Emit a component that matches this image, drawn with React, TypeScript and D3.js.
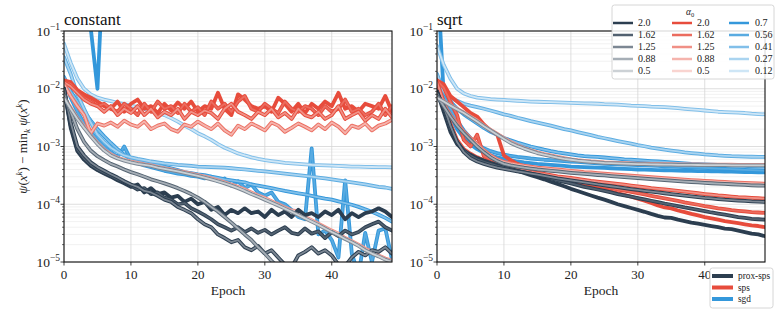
import React from 'react';
import * as d3 from 'd3';

// ---- data ----
const epochs = d3.range(50);
const alphaSps = ['2.0', '1.62', '1.25', '0.88', '0.5'];
const alphaSgd = ['0.7', '0.56', '0.41', '0.27', '0.12'];
const methodNames = ['prox-sps', 'sps', 'sgd'];
const xTicks = [0, 10, 20, 30, 40];
const yTicks = [1e-1, 1e-2, 1e-3, 1e-4, 1e-5];
const yTickExp = ['−1', '−2', '−3', '−4', '−5'];

// step size schedule: constant
const constProx20 = [
  1.0e-2, 2.1e-3, 8.3e-4, 5.9e-4, 4.6e-4, 3.9e-4, 3.4e-4, 3.0e-4, 2.6e-4, 2.3e-4,
  2.0e-4, 2.2e-4, 1.6e-4, 1.9e-4, 1.5e-4, 1.6e-4, 1.3e-4, 1.4e-4, 1.1e-4, 1.25e-4,
  1.0e-4, 1.1e-4, 8.0e-5, 9.0e-5, 6.5e-5, 8.0e-5, 7.0e-5, 8.5e-5, 7.0e-5, 7.5e-5,
  6.0e-5, 8.0e-5, 6.5e-5, 7.5e-5, 6.0e-5, 8.0e-5, 6.5e-5, 7.0e-5, 6.0e-5, 7.5e-5,
  6.5e-5, 8.0e-5, 5.5e-5, 7.0e-5, 6.0e-5, 7.0e-5, 7.5e-5, 8.5e-5, 7.5e-5, 6.0e-5,
];
const constProx162 = [
  1.0e-2, 2.3e-3, 8.8e-4, 6.2e-4, 4.8e-4, 4.0e-4, 3.5e-4, 3.1e-4, 2.7e-4, 2.4e-4,
  2.1e-4, 1.8e-4, 1.9e-4, 1.5e-4, 1.6e-4, 1.3e-4, 1.2e-4, 1.0e-4, 1.05e-4, 8.5e-5,
  7.5e-5, 6.5e-5, 5.5e-5, 4.5e-5, 4.0e-5, 3.5e-5, 4.0e-5, 3.3e-5, 3.8e-5, 3.2e-5,
  3.6e-5, 3.0e-5, 3.5e-5, 4.0e-5, 3.2e-5, 3.0e-5, 3.8e-5, 3.1e-5, 3.4e-5, 2.6e-5,
  3.3e-5, 2.8e-5, 3.5e-5, 3.0e-5, 3.3e-5, 4.0e-5, 4.5e-5, 5.0e-5, 4.0e-5, 3.5e-5,
];
const constProx125 = [
  1.0e-2, 2.6e-3, 1.0e-3, 7.0e-4, 5.3e-4, 4.4e-4, 3.8e-4, 3.3e-4, 2.9e-4, 2.5e-4,
  2.2e-4, 2.0e-4, 1.7e-4, 1.6e-4, 1.4e-4, 1.2e-4, 1.1e-4, 9.0e-5, 8.0e-5, 7.0e-5,
  5.5e-5, 4.5e-5, 4.0e-5, 3.0e-5, 2.6e-5, 2.2e-5, 2.4e-5, 1.8e-5, 1.6e-5, 1.9e-5,
  1.4e-5, 1.6e-5, 1.2e-5, 9.0e-6, 8.0e-6, 1.3e-5, 1.5e-5, 1.8e-5, 1.4e-5, 1.6e-5,
  1.3e-5, 9.0e-6, 8.5e-6, 1.2e-5, 1.5e-5, 1.3e-5, 1.6e-5, 1.5e-5, 1.8e-5, 1.4e-5,
];
const constProx088 = [
  8.0e-3, 4.0e-3, 2.0e-3, 1.2e-3, 8.5e-4, 6.8e-4, 5.8e-4, 5.0e-4, 4.5e-4, 4.0e-4,
  3.6e-4, 3.3e-4, 3.0e-4, 2.7e-4, 2.5e-4, 2.3e-4, 2.1e-4, 1.9e-4, 1.7e-4, 1.5e-4,
  1.3e-4, 1.1e-4, 9.0e-5, 7.5e-5, 6.0e-5, 4.8e-5, 3.8e-5, 3.0e-5, 2.4e-5, 1.8e-5,
  1.4e-5, 1.05e-5, 8.0e-6, 6.0e-6, 5.0e-6, 4.0e-6, 3.5e-6, 3.0e-6, 2.5e-6, 2.2e-6,
  2.0e-6, 1.8e-6, 1.6e-6, 1.5e-6, 1.4e-6, 1.3e-6, 1.2e-6, 1.1e-6, 1.0e-6, 1.0e-6,
];
const constProx05 = [
  7.0e-3, 4.5e-3, 3.0e-3, 2.1e-3, 1.5e-3, 1.1e-3, 8.5e-4, 7.0e-4, 6.2e-4, 5.7e-4,
  5.3e-4, 5.0e-4, 4.8e-4, 4.6e-4, 4.3e-4, 4.1e-4, 3.9e-4, 3.7e-4, 3.5e-4, 3.3e-4,
  3.1e-4, 2.9e-4, 2.7e-4, 2.5e-4, 2.3e-4, 2.1e-4, 1.9e-4, 1.7e-4, 1.5e-4, 1.35e-4,
  1.2e-4, 1.07e-4, 9.5e-5, 8.4e-5, 7.4e-5, 6.5e-5, 5.7e-5, 5.0e-5, 4.4e-5, 3.8e-5,
  3.3e-5, 2.9e-5, 2.5e-5, 2.2e-5, 1.9e-5, 1.6e-5, 1.4e-5, 1.25e-5, 1.1e-5, 1.0e-5,
];
const constSps20 = [
  1.4e-2, 1.3e-2, 9.5e-3, 8.0e-3, 7.0e-3, 6.0e-3, 5.0e-3, 4.5e-3, 6.0e-3, 4.0e-3,
  5.5e-3, 6.5e-3, 4.5e-3, 5.0e-3, 3.8e-3, 5.5e-3, 4.2e-3, 5.8e-3, 4.5e-3, 6.0e-3,
  4.0e-3, 5.0e-3, 4.5e-3, 8.5e-3, 4.5e-3, 3.5e-3, 8.0e-3, 6.5e-3, 5.0e-3, 4.5e-3,
  5.0e-3, 4.0e-3, 7.0e-3, 5.5e-3, 4.0e-3, 5.5e-3, 3.8e-3, 5.5e-3, 4.5e-3, 6.0e-3,
  5.0e-3, 8.5e-3, 4.5e-3, 5.0e-3, 4.0e-3, 5.5e-3, 5.0e-3, 4.5e-3, 7.5e-3, 4.0e-3,
];
const constSps162 = [
  1.35e-2, 1.2e-2, 9.0e-3, 7.0e-3, 6.0e-3, 5.0e-3, 5.5e-3, 4.5e-3, 4.0e-3, 5.5e-3,
  4.5e-3, 3.5e-3, 5.5e-3, 4.0e-3, 6.0e-3, 4.5e-3, 5.0e-3, 3.8e-3, 5.5e-3, 4.0e-3,
  4.8e-3, 3.5e-3, 6.0e-3, 4.5e-3, 5.5e-3, 4.0e-3, 6.0e-3, 7.5e-3, 4.5e-3, 4.0e-3,
  5.5e-3, 4.5e-3, 3.8e-3, 6.0e-3, 4.5e-3, 4.0e-3, 5.0e-3, 4.5e-3, 3.5e-3, 5.0e-3,
  4.0e-3, 4.5e-3, 6.5e-3, 4.0e-3, 4.5e-3, 3.5e-3, 4.0e-3, 5.5e-3, 3.5e-3, 5.0e-3,
];
const constSps125 = [
  1.3e-2, 1.1e-2, 8.5e-3, 6.5e-3, 5.5e-3, 5.0e-3, 4.0e-3, 5.0e-3, 3.5e-3, 4.5e-3,
  3.8e-3, 5.0e-3, 3.5e-3, 4.5e-3, 3.2e-3, 4.0e-3, 3.5e-3, 4.5e-3, 3.0e-3, 4.0e-3,
  3.5e-3, 4.2e-3, 3.8e-3, 3.0e-3, 4.5e-3, 5.5e-3, 4.0e-3, 3.5e-3, 3.0e-3, 4.0e-3,
  3.5e-3, 4.5e-3, 3.2e-3, 3.8e-3, 3.0e-3, 4.5e-3, 3.5e-3, 3.2e-3, 4.0e-3, 3.0e-3,
  3.5e-3, 5.0e-3, 3.0e-3, 3.5e-3, 4.0e-3, 2.8e-3, 3.5e-3, 3.0e-3, 4.5e-3, 3.2e-3,
];
const constSps088 = [
  1.2e-2, 7.5e-3, 5.0e-3, 3.5e-3, 1.7e-3, 2.5e-3, 2.3e-3, 2.6e-3, 2.2e-3, 2.8e-3,
  2.4e-3, 2.2e-3, 2.7e-3, 2.0e-3, 2.3e-3, 2.5e-3, 2.0e-3, 1.8e-3, 2.4e-3, 2.2e-3,
  2.7e-3, 2.3e-3, 2.0e-3, 2.5e-3, 1.9e-3, 1.6e-3, 2.3e-3, 2.0e-3, 2.5e-3, 2.2e-3,
  1.9e-3, 2.6e-3, 2.3e-3, 1.8e-3, 2.1e-3, 2.5e-3, 2.2e-3, 1.9e-3, 2.4e-3, 2.0e-3,
  2.6e-3, 2.2e-3, 1.7e-3, 2.3e-3, 2.1e-3, 2.5e-3, 1.9e-3, 2.3e-3, 2.5e-3, 2.9e-3,
];
const constSps05 = [
  7.2e-3, 4.7e-3, 3.1e-3, 2.2e-3, 1.55e-3, 1.15e-3, 8.8e-4, 7.3e-4, 6.4e-4, 5.9e-4,
  5.5e-4, 5.2e-4, 4.9e-4, 4.7e-4, 4.4e-4, 4.2e-4, 4.0e-4, 3.8e-4, 3.6e-4, 3.4e-4,
  3.2e-4, 3.0e-4, 2.8e-4, 2.6e-4, 2.4e-4, 2.2e-4, 2.0e-4, 1.8e-4, 1.6e-4, 1.42e-4,
  1.28e-4, 1.13e-4, 1.0e-4, 8.8e-5, 7.8e-5, 7.6e-5, 6.0e-5, 5.3e-5, 4.6e-5, 4.0e-5,
  3.5e-5, 3.1e-5, 2.6e-5, 2.3e-5, 2.0e-5, 1.7e-5, 1.5e-5, 1.3e-5, 1.15e-5, 1.05e-5,
];
// diverged run: only the first epochs were recorded
const constSgd07 = [1.5, 3.0, 2.0, 0.8, 0.11, 1.0e-2, 3.0];
const constSgd056 = [
  1.5e-2, 7.0e-3, 4.0e-3, 2.5e-3, 1.8e-3, 1.3e-3, 1.0e-3, 8.0e-4, 6.6e-4, 1.0e-3,
  5.8e-4, 5.2e-4, 4.7e-4, 4.4e-4, 4.1e-4, 3.8e-4, 3.6e-4, 3.4e-4, 3.3e-4, 3.1e-4,
  3.0e-4, 2.8e-4, 3.0e-4, 2.5e-4, 2.8e-4, 2.1e-4, 2.5e-4, 1.9e-4, 2.2e-4, 1.6e-4,
  1.4e-4, 1.6e-4, 1.1e-4, 1.0e-4, 8.0e-5, 6.0e-5, 5.5e-5, 9.3e-4, 3.0e-5, 3.5e-5,
  2.4e-5, 1.2e-5, 2.6e-4, 1.4e-5, 6.0e-6, 3.2e-5, 1.0e-5, 3.5e-5, 3.8e-5, 1.1e-5,
];
const constSgd041 = [
  1.6e-2, 9.0e-3, 6.0e-3, 4.0e-3, 2.8e-3, 2.0e-3, 1.5e-3, 1.15e-3, 9.0e-4, 7.2e-4,
  6.0e-4, 5.6e-4, 5.3e-4, 5.0e-4, 4.8e-4, 4.5e-4, 4.2e-4, 3.9e-4, 3.6e-4, 3.45e-4,
  3.3e-4, 3.2e-4, 3.0e-4, 2.85e-4, 2.7e-4, 2.6e-4, 2.5e-4, 2.4e-4, 2.2e-4, 2.1e-4,
  2.0e-4, 1.9e-4, 1.8e-4, 1.7e-4, 1.62e-4, 1.55e-4, 1.48e-4, 1.4e-4, 1.32e-4, 1.25e-4,
  1.2e-4, 1.12e-4, 1.05e-4, 9.8e-5, 9.0e-5, 8.2e-5, 7.4e-5, 6.6e-5, 5.8e-5, 5.0e-5,
];
const constSgd027 = [
  3.5e-2, 1.8e-2, 8.0e-3, 4.5e-3, 2.6e-3, 1.6e-3, 1.2e-3, 9.5e-4, 8.0e-4, 7.0e-4,
  6.5e-4, 6.1e-4, 5.8e-4, 5.5e-4, 5.3e-4, 5.1e-4, 4.95e-4, 4.8e-4, 4.7e-4, 4.6e-4,
  4.5e-4, 4.45e-4, 4.4e-4, 4.35e-4, 4.3e-4, 4.2e-4, 4.1e-4, 4.0e-4, 3.9e-4, 3.8e-4,
  3.7e-4, 3.6e-4, 3.5e-4, 3.4e-4, 3.3e-4, 3.2e-4, 3.1e-4, 3.0e-4, 2.9e-4, 2.8e-4,
  2.7e-4, 2.6e-4, 2.5e-4, 2.4e-4, 2.3e-4, 2.2e-4, 2.1e-4, 2.0e-4, 1.95e-4, 1.85e-4,
];
const constSgd012 = [
  6.0e-2, 2.8e-2, 1.5e-2, 1.0e-2, 8.0e-3, 7.0e-3, 6.5e-3, 6.1e-3, 5.7e-3, 5.4e-3,
  5.1e-3, 4.8e-3, 4.5e-3, 4.1e-3, 3.8e-3, 3.5e-3, 3.1e-3, 2.7e-3, 2.3e-3, 2.0e-3,
  1.7e-3, 1.5e-3, 1.3e-3, 1.1e-3, 9.5e-4, 8.5e-4, 7.6e-4, 7.0e-4, 6.5e-4, 6.1e-4,
  5.8e-4, 5.6e-4, 5.4e-4, 5.2e-4, 5.1e-4, 5.0e-4, 4.9e-4, 4.8e-4, 4.75e-4, 4.7e-4,
  4.65e-4, 4.6e-4, 4.55e-4, 4.5e-4, 4.48e-4, 4.45e-4, 4.42e-4, 4.4e-4, 4.38e-4, 4.35e-4,
];

// step size schedule: sqrt
const sqrtProx20 = [
  9.0e-3, 4.0e-3, 1.8e-3, 1.1e-3, 8.5e-4, 7.2e-4, 6.3e-4, 5.7e-4, 5.2e-4, 4.8e-4,
  4.4e-4, 4.1e-4, 3.8e-4, 3.5e-4, 3.2e-4, 2.95e-4, 2.7e-4, 2.45e-4, 2.25e-4, 2.05e-4,
  1.85e-4, 1.7e-4, 1.55e-4, 1.42e-4, 1.3e-4, 1.2e-4, 1.1e-4, 1.0e-4, 9.3e-5, 8.6e-5,
  8.0e-5, 7.4e-5, 6.8e-5, 6.3e-5, 5.9e-5, 5.8e-5, 5.4e-5, 5.1e-5, 4.8e-5, 4.6e-5,
  4.4e-5, 4.2e-5, 4.0e-5, 3.8e-5, 3.7e-5, 3.5e-5, 3.3e-5, 3.1e-5, 3.0e-5, 2.8e-5,
];
const sqrtProx162 = [
  9.0e-3, 4.5e-3, 2.0e-3, 1.2e-3, 8.5e-4, 7.0e-4, 6.0e-4, 5.4e-4, 5.0e-4, 4.6e-4,
  4.3e-4, 4.05e-4, 3.8e-4, 3.6e-4, 3.4e-4, 3.2e-4, 3.0e-4, 2.8e-4, 2.6e-4, 2.45e-4,
  2.3e-4, 2.15e-4, 2.0e-4, 1.9e-4, 1.8e-4, 1.7e-4, 1.6e-4, 1.5e-4, 1.42e-4, 1.35e-4,
  1.28e-4, 1.21e-4, 1.15e-4, 1.09e-4, 1.03e-4, 9.8e-5, 9.3e-5, 8.8e-5, 8.4e-5, 8.0e-5,
  7.6e-5, 7.2e-5, 6.9e-5, 6.6e-5, 6.3e-5, 6.0e-5, 5.8e-5, 5.6e-5, 5.5e-5, 5.4e-5,
];
const sqrtProx125 = [
  8.5e-3, 5.0e-3, 2.3e-3, 1.2e-3, 8.0e-4, 6.3e-4, 5.5e-4, 5.0e-4, 4.6e-4, 4.3e-4,
  4.1e-4, 3.9e-4, 3.7e-4, 3.55e-4, 3.4e-4, 3.25e-4, 3.1e-4, 2.95e-4, 2.8e-4, 2.7e-4,
  2.6e-4, 2.5e-4, 2.4e-4, 2.3e-4, 2.2e-4, 2.12e-4, 2.05e-4, 1.98e-4, 1.9e-4, 1.83e-4,
  1.77e-4, 1.71e-4, 1.65e-4, 1.6e-4, 1.55e-4, 1.5e-4, 1.45e-4, 1.41e-4, 1.37e-4, 1.33e-4,
  1.29e-4, 1.26e-4, 1.23e-4, 1.2e-4, 1.18e-4, 1.16e-4, 1.14e-4, 1.12e-4, 1.11e-4, 1.1e-4,
];
const sqrtProx088 = [
  7.5e-3, 5.0e-3, 3.3e-3, 2.3e-3, 1.7e-3, 1.3e-3, 1.0e-3, 8.0e-4, 6.5e-4, 5.6e-4,
  5.0e-4, 4.7e-4, 4.5e-4, 4.3e-4, 4.15e-4, 4.0e-4, 3.9e-4, 3.8e-4, 3.7e-4, 3.6e-4,
  3.5e-4, 3.42e-4, 3.35e-4, 3.28e-4, 3.21e-4, 3.15e-4, 3.08e-4, 3.02e-4, 2.96e-4, 2.9e-4,
  2.84e-4, 2.78e-4, 2.72e-4, 2.67e-4, 2.62e-4, 2.57e-4, 2.52e-4, 2.47e-4, 2.43e-4, 2.39e-4,
  2.35e-4, 2.31e-4, 2.28e-4, 2.25e-4, 2.22e-4, 2.19e-4, 2.16e-4, 2.13e-4, 2.11e-4, 2.1e-4,
];
const sqrtProx05 = [
  7.0e-3, 6.0e-3, 5.1e-3, 4.4e-3, 3.8e-3, 3.2e-3, 2.7e-3, 2.25e-3, 1.9e-3, 1.6e-3,
  1.35e-3, 1.15e-3, 1.02e-3, 9.2e-4, 8.4e-4, 7.7e-4, 7.2e-4, 6.8e-4, 6.4e-4, 6.1e-4,
  5.9e-4, 5.7e-4, 5.55e-4, 5.4e-4, 5.3e-4, 5.2e-4, 5.15e-4, 5.1e-4, 5.05e-4, 5.0e-4,
  4.97e-4, 4.94e-4, 4.91e-4, 4.88e-4, 4.86e-4, 4.84e-4, 4.82e-4, 4.8e-4, 4.79e-4, 4.78e-4,
  4.77e-4, 4.76e-4, 4.75e-4, 4.74e-4, 4.73e-4, 4.72e-4, 4.71e-4, 4.7e-4, 4.7e-4, 4.7e-4,
];
const sqrtSps20 = [
  1.4e-2, 1.2e-2, 7.5e-3, 6.0e-3, 4.8e-3, 3.8e-3, 3.3e-3, 2.4e-3, 1.9e-3, 1.6e-3,
  7.0e-4, 5.8e-4, 5.0e-4, 4.5e-4, 4.0e-4, 3.6e-4, 3.3e-4, 3.0e-4, 2.8e-4, 2.6e-4,
  2.4e-4, 2.3e-4, 2.15e-4, 2.05e-4, 1.9e-4, 1.8e-4, 1.65e-4, 1.55e-4, 1.45e-4, 1.35e-4,
  1.25e-4, 1.15e-4, 1.05e-4, 9.5e-5, 8.8e-5, 8.5e-5, 7.8e-5, 7.3e-5, 6.8e-5, 6.4e-5,
  6.0e-5, 5.7e-5, 5.4e-5, 5.1e-5, 4.9e-5, 4.7e-5, 4.5e-5, 4.3e-5, 4.2e-5, 4.0e-5,
];
const sqrtSps162 = [
  1.4e-2, 1.05e-2, 6.0e-3, 3.5e-3, 1.3e-3, 1.0e-3, 1.6e-3, 6.8e-4, 6.0e-4, 5.2e-4,
  4.7e-4, 4.3e-4, 4.0e-4, 3.7e-4, 3.5e-4, 3.3e-4, 3.1e-4, 2.9e-4, 2.75e-4, 2.6e-4,
  2.5e-4, 2.4e-4, 2.3e-4, 2.2e-4, 2.1e-4, 2.0e-4, 1.9e-4, 1.8e-4, 1.72e-4, 1.64e-4,
  1.56e-4, 1.48e-4, 1.4e-4, 1.33e-4, 1.26e-4, 1.2e-4, 1.14e-4, 1.08e-4, 1.03e-4, 9.8e-5,
  9.3e-5, 8.9e-5, 8.5e-5, 8.2e-5, 7.9e-5, 7.7e-5, 7.5e-5, 7.3e-5, 7.2e-5, 7.1e-5,
];
const sqrtSps125 = [
  1.3e-2, 6.0e-3, 2.5e-3, 1.3e-3, 9.0e-4, 7.5e-4, 6.5e-4, 5.8e-4, 5.3e-4, 4.9e-4,
  4.6e-4, 4.3e-4, 4.05e-4, 3.85e-4, 3.65e-4, 3.5e-4, 3.35e-4, 3.2e-4, 3.05e-4, 2.95e-4,
  2.85e-4, 2.75e-4, 2.65e-4, 2.55e-4, 2.47e-4, 2.4e-4, 2.32e-4, 2.25e-4, 2.18e-4, 2.1e-4,
  2.03e-4, 1.97e-4, 1.9e-4, 1.85e-4, 1.8e-4, 1.75e-4, 1.7e-4, 1.65e-4, 1.6e-4, 1.55e-4,
  1.5e-4, 1.46e-4, 1.42e-4, 1.39e-4, 1.36e-4, 1.33e-4, 1.31e-4, 1.29e-4, 1.27e-4, 1.25e-4,
];
const sqrtSps088 = [
  8.0e-3, 5.4e-3, 3.5e-3, 2.5e-3, 1.8e-3, 1.4e-3, 1.1e-3, 8.6e-4, 7.0e-4, 6.0e-4,
  5.4e-4, 5.1e-4, 4.85e-4, 4.65e-4, 4.5e-4, 4.3e-4, 4.2e-4, 4.1e-4, 4.0e-4, 3.9e-4,
  3.8e-4, 3.7e-4, 3.6e-4, 3.55e-4, 3.47e-4, 3.4e-4, 3.33e-4, 3.26e-4, 3.2e-4, 3.13e-4,
  3.07e-4, 3.0e-4, 2.94e-4, 2.88e-4, 2.83e-4, 2.78e-4, 2.72e-4, 2.67e-4, 2.62e-4, 2.58e-4,
  2.54e-4, 2.5e-4, 2.46e-4, 2.43e-4, 2.4e-4, 2.37e-4, 2.34e-4, 2.31e-4, 2.29e-4, 2.27e-4,
];
const sqrtSps05 = [
  7.1e-3, 6.1e-3, 5.2e-3, 4.5e-3, 3.9e-3, 3.3e-3, 2.8e-3, 2.3e-3, 1.95e-3, 1.65e-3,
  1.4e-3, 1.2e-3, 1.05e-3, 9.4e-4, 8.6e-4, 7.9e-4, 7.4e-4, 7.0e-4, 6.6e-4, 6.3e-4,
  6.0e-4, 5.8e-4, 5.65e-4, 5.5e-4, 5.4e-4, 5.3e-4, 5.25e-4, 5.2e-4, 5.15e-4, 5.1e-4,
  5.07e-4, 5.04e-4, 5.01e-4, 4.98e-4, 4.96e-4, 4.94e-4, 4.92e-4, 4.9e-4, 4.89e-4, 4.88e-4,
  4.87e-4, 4.86e-4, 4.85e-4, 4.84e-4, 4.83e-4, 4.82e-4, 4.81e-4, 4.8e-4, 4.8e-4, 4.8e-4,
];
const sqrtSgd07 = [
  1.2, 8.0e-3, 3.5e-3, 2.0e-3, 1.4e-3, 1.1e-3, 9.0e-4, 7.8e-4, 7.0e-4, 6.5e-4,
  6.1e-4, 5.8e-4, 5.5e-4, 5.3e-4, 5.15e-4, 5.0e-4, 4.9e-4, 4.8e-4, 4.7e-4, 4.6e-4,
  4.5e-4, 4.45e-4, 4.4e-4, 4.35e-4, 4.3e-4, 4.25e-4, 4.2e-4, 4.15e-4, 4.1e-4, 4.05e-4,
  4.0e-4, 3.97e-4, 3.94e-4, 3.91e-4, 3.88e-4, 3.85e-4, 3.82e-4, 3.8e-4, 3.78e-4, 3.76e-4,
  3.74e-4, 3.72e-4, 3.7e-4, 3.68e-4, 3.66e-4, 3.64e-4, 3.62e-4, 3.6e-4, 3.58e-4, 3.56e-4,
];
const sqrtSgd056 = [
  1.4e-2, 8.0e-3, 4.5e-3, 2.8e-3, 1.9e-3, 1.4e-3, 1.1e-3, 9.3e-4, 8.3e-4, 7.7e-4,
  7.2e-4, 6.9e-4, 6.6e-4, 6.4e-4, 6.2e-4, 6.05e-4, 5.9e-4, 5.8e-4, 5.7e-4, 5.6e-4,
  5.5e-4, 5.4e-4, 5.3e-4, 5.2e-4, 5.1e-4, 5.0e-4, 4.95e-4, 4.9e-4, 4.85e-4, 4.8e-4,
  4.75e-4, 4.7e-4, 4.65e-4, 4.6e-4, 4.55e-4, 4.5e-4, 4.45e-4, 4.4e-4, 4.35e-4, 4.3e-4,
  4.25e-4, 4.2e-4, 4.15e-4, 4.1e-4, 4.05e-4, 4.0e-4, 3.95e-4, 3.9e-4, 3.85e-4, 3.8e-4,
];
const sqrtSgd041 = [
  1.5e-2, 9.0e-3, 6.0e-3, 4.5e-3, 3.6e-3, 3.0e-3, 2.5e-3, 2.1e-3, 1.8e-3, 1.6e-3,
  1.4e-3, 1.28e-3, 1.17e-3, 1.08e-3, 1.0e-3, 9.4e-4, 8.8e-4, 8.3e-4, 7.9e-4, 7.6e-4,
  7.3e-4, 7.0e-4, 6.8e-4, 6.7e-4, 6.6e-4, 6.45e-4, 6.3e-4, 6.15e-4, 6.0e-4, 5.9e-4,
  5.8e-4, 5.7e-4, 5.6e-4, 5.5e-4, 5.4e-4, 5.3e-4, 5.2e-4, 5.1e-4, 5.0e-4, 4.95e-4,
  4.9e-4, 4.85e-4, 4.8e-4, 4.75e-4, 4.7e-4, 4.65e-4, 4.6e-4, 4.55e-4, 4.5e-4, 4.5e-4,
];
const sqrtSgd027 = [
  1.8e-2, 9.0e-3, 7.0e-3, 6.2e-3, 5.5e-3, 5.1e-3, 4.8e-3, 4.5e-3, 4.2e-3, 3.9e-3,
  3.6e-3, 3.4e-3, 3.15e-3, 2.95e-3, 2.75e-3, 2.6e-3, 2.45e-3, 2.3e-3, 2.15e-3, 2.0e-3,
  1.9e-3, 1.78e-3, 1.67e-3, 1.57e-3, 1.47e-3, 1.39e-3, 1.31e-3, 1.24e-3, 1.18e-3, 1.12e-3,
  1.06e-3, 1.01e-3, 9.6e-4, 9.2e-4, 8.8e-4, 8.5e-4, 8.2e-4, 7.9e-4, 7.7e-4, 7.5e-4,
  7.3e-4, 7.15e-4, 7.0e-4, 6.9e-4, 6.8e-4, 6.75e-4, 6.7e-4, 6.65e-4, 6.6e-4, 6.6e-4,
];
const sqrtSgd012 = [
  5.5e-2, 2.6e-2, 1.5e-2, 1.0e-2, 8.3e-3, 7.5e-3, 7.0e-3, 6.8e-3, 6.6e-3, 6.5e-3,
  6.4e-3, 6.3e-3, 6.2e-3, 6.1e-3, 6.0e-3, 5.95e-3, 5.9e-3, 5.85e-3, 5.8e-3, 5.75e-3,
  5.7e-3, 5.65e-3, 5.6e-3, 5.55e-3, 5.5e-3, 5.4e-3, 5.35e-3, 5.3e-3, 5.2e-3, 5.1e-3,
  5.05e-3, 5.0e-3, 4.9e-3, 4.85e-3, 4.8e-3, 4.7e-3, 4.6e-3, 4.5e-3, 4.4e-3, 4.3e-3,
  4.2e-3, 4.1e-3, 4.0e-3, 3.95e-3, 3.9e-3, 3.85e-3, 3.8e-3, 3.7e-3, 3.65e-3, 3.6e-3,
];

// ---- styling ----
const baseColor = { 'prox-sps': '#2c3e50', sps: '#e74c3c', sgd: '#3498db' };
const shade = [1, 0.82, 0.62, 0.42, 0.24];
const tint = (base: string, t: number) => d3.interpolateRgb('#ffffff', base)(Math.min(1, t));
const FONT = "'Liberation Serif', 'Times New Roman', serif";

const W = 779;
const H = 312;
const TOP = 31;
const BOTTOM = 262;
const PW = 328;

const panels = [
  {
    title: 'constant', left: 64,
    series: {
      'prox-sps': [constProx20, constProx162, constProx125, constProx088, constProx05],
      sps: [constSps20, constSps162, constSps125, constSps088, constSps05],
      sgd: [constSgd07, constSgd056, constSgd041, constSgd027, constSgd012],
    },
  },
  {
    title: 'sqrt', left: 437,
    series: {
      'prox-sps': [sqrtProx20, sqrtProx162, sqrtProx125, sqrtProx088, sqrtProx05],
      sps: [sqrtSps20, sqrtSps162, sqrtSps125, sqrtSps088, sqrtSps05],
      sgd: [sqrtSgd07, sqrtSgd056, sqrtSgd041, sqrtSgd027, sqrtSgd012],
    },
  },
];

const drawOrder = ['sgd', 'sps', 'prox-sps'];

function Panel({ panel, idx }: { panel: any; idx: number }) {
  const x = d3.scaleLinear().domain([0, epochs[epochs.length - 1]]).range([panel.left, panel.left + PW]);
  const y = d3.scaleLog().domain([1e-5, 1e-1]).range([BOTTOM, TOP]);
  const line = d3.line<number>()
    .defined((d) => d != null)
    .x((_, i) => x(epochs[i]))
    .y((d) => y(d));
  const minor = y.ticks().filter((t) => !yTicks.some((m) => Math.abs(m - t) / m < 1e-6));
  const clipId = `clip-${idx}`;

  return (
    <g>
      <defs>
        <clipPath id={clipId}>
          <rect x={panel.left} y={TOP} width={PW} height={BOTTOM - TOP} />
        </clipPath>
      </defs>
      {/* grid */}
      {minor.map((t) => (
        <line key={'mg' + t} x1={panel.left} x2={panel.left + PW} y1={y(t)} y2={y(t)} stroke="#ebebeb" strokeWidth={0.7} />
      ))}
      {yTicks.map((t) => (
        <line key={'g' + t} x1={panel.left} x2={panel.left + PW} y1={y(t)} y2={y(t)} stroke="#d6d6d6" strokeWidth={0.8} />
      ))}
      {xTicks.map((t) => (
        <line key={'gx' + t} x1={x(t)} x2={x(t)} y1={TOP} y2={BOTTOM} stroke="#d6d6d6" strokeWidth={0.8} />
      ))}
      {/* series */}
      <g clipPath={`url(#${clipId})`}>
        {drawOrder.map((m) =>
          panel.series[m].map((vals: number[], k: number) => {
            const base = (baseColor as any)[m];
            const d = line(vals) || '';
            return (
              <g key={m + k}>
                <path d={d} fill="none" stroke={tint(base, shade[k] + 0.38)} strokeWidth={3.8}
                  strokeLinejoin="round" strokeLinecap="round" />
                <path d={d} fill="none" stroke={tint(base, shade[k])} strokeWidth={1.8}
                  strokeLinejoin="round" strokeLinecap="round" />
              </g>
            );
          })
        )}
      </g>
      {/* frame */}
      <rect x={panel.left} y={TOP} width={PW} height={BOTTOM - TOP} fill="none" stroke="#111" strokeWidth={1.1} />
      {/* y ticks */}
      {minor.map((t) => (
        <line key={'mt' + t} x1={panel.left - 2} x2={panel.left} y1={y(t)} y2={y(t)} stroke="#111" strokeWidth={0.6} />
      ))}
      {yTicks.map((t, i) => (
        <g key={'yt' + t}>
          <line x1={panel.left - 3.5} x2={panel.left} y1={y(t)} y2={y(t)} stroke="#111" strokeWidth={0.8} />
          <text x={panel.left - 4} y={y(t) + 4.5} textAnchor="end" fontFamily={FONT} fontSize={13.5} fill="#222">
            10<tspan dy={-5.5} fontSize={9.5}>{yTickExp[i]}</tspan>
          </text>
        </g>
      ))}
      {/* x ticks */}
      {xTicks.map((t) => (
        <g key={'xt' + t}>
          <line x1={x(t)} x2={x(t)} y1={BOTTOM} y2={BOTTOM + 3.5} stroke="#111" strokeWidth={0.8} />
          <text x={x(t)} y={BOTTOM + 16.5} textAnchor="middle" fontFamily={FONT} fontSize={13} fill="#222">{t}</text>
        </g>
      ))}
      <text x={panel.left + PW / 2} y={294.5} textAnchor="middle" fontFamily={FONT} fontSize={13.5} fill="#222">Epoch</text>
      <text x={panel.left} y={25} fontFamily={FONT} fontSize={17} fill="#111">{panel.title}</text>
    </g>
  );
}

function AlphaLegend() {
  const cols = [
    { m: 'prox-sps', lx: 613, tx: 638, labels: alphaSps },
    { m: 'sps', lx: 672, tx: 697, labels: alphaSps },
    { m: 'sgd', lx: 729, tx: 755, labels: alphaSgd },
  ];
  return (
    <g>
      <rect x={612} y={5} width={162} height={74} rx={2.5} fill="#fff" fillOpacity={0.85} stroke="#cccccc" strokeWidth={0.8} />
      <text x={690} y={15} textAnchor="middle" fontFamily={FONT} fontSize={9.5} fill="#222">
        <tspan fontStyle="italic">α</tspan><tspan dy={2} fontSize={6.5}>0</tspan>
      </text>
      {cols.map((c) =>
        c.labels.map((lab, k) => {
          const ry = 23 + k * 12;
          return (
            <g key={c.m + lab}>
              <line x1={c.lx} x2={c.lx + 20} y1={ry} y2={ry} stroke={tint((baseColor as any)[c.m], shade[k])} strokeWidth={2.5} />
              <text x={c.tx} y={ry + 3.3} fontFamily={FONT} fontSize={10} fill="#222">{lab}</text>
            </g>
          );
        })
      )}
    </g>
  );
}

function MethodLegend() {
  return (
    <g>
      <rect x={710} y={268} width={63} height={40} rx={2.5} fill="#fff" fillOpacity={0.9} stroke="#cccccc" strokeWidth={0.8} />
      {methodNames.map((m, i) => {
        const ry = 276 + i * 11.5;
        return (
          <g key={m}>
            <line x1={712} x2={733} y1={ry} y2={ry} stroke={(baseColor as any)[m]} strokeWidth={4} />
            <text x={738} y={ry + 3} fontFamily={FONT} fontSize={9.3} fill="#222">{m}</text>
          </g>
        );
      })}
    </g>
  );
}

export default function App() {
  return (
    <svg width={W} height={H} style={{ position: 'absolute', left: 0, top: 0, background: '#fff' }}>
      {panels.map((p, i) => (
        <Panel key={p.title} panel={p} idx={i} />
      ))}
      <text transform={`translate(27,${(TOP + BOTTOM) / 2}) rotate(-90)`} textAnchor="middle" fontFamily={FONT} fontSize={13} fill="#222">
        <tspan fontStyle="italic">ψ</tspan>(<tspan fontStyle="italic">x</tspan>
        <tspan dy={-5} fontSize={9} fontStyle="italic">k</tspan>
        <tspan dy={5}>) − min</tspan>
        <tspan dy={3} fontSize={9} fontStyle="italic">k</tspan>
        <tspan dy={-3}> </tspan>
        <tspan fontStyle="italic">ψ</tspan>(<tspan fontStyle="italic">x</tspan>
        <tspan dy={-5} fontSize={9} fontStyle="italic">k</tspan>
        <tspan dy={5}>)</tspan>
      </text>
      <AlphaLegend />
      <MethodLegend />
    </svg>
  );
}
